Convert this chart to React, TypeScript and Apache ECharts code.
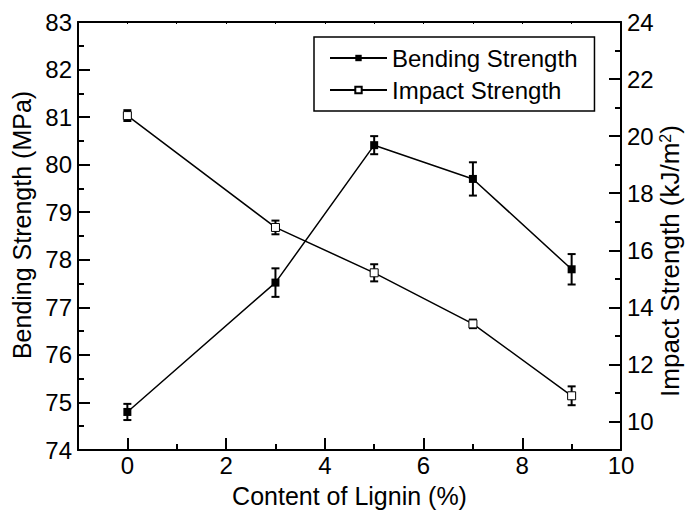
import React, { useEffect, useRef } from "react";
import * as echarts from "echarts";

const lignin = [0, 3, 5, 7, 9];
const bending = [74.8, 77.52, 80.41, 79.7, 77.8];
const bendingErr = [0.17, 0.3, 0.19, 0.35, 0.32];
const impact = [20.72, 16.8, 15.21, 13.42, 10.9];
const impactErr = [0.19, 0.24, 0.3, 0.15, 0.33];
const xTicks = [0, 2, 4, 6, 8, 10];
const rightTicks = [10, 12, 14, 16, 18, 20, 22, 24];

const FONT = "'Liberation Sans', Arial, sans-serif";

export default function App() {
  const ref = useRef<HTMLDivElement>(null);
  useEffect(() => {
    const chart = echarts.init(ref.current!, null, { renderer: "svg" });
    const errRender = (params: any, api: any) => {
      const x = api.value(0);
      const p1 = api.coord([x, api.value(1)]);
      const p2 = api.coord([x, api.value(2)]);
      const w = 4;
      const style = { stroke: "#000", lineWidth: 2 };
      return {
        type: "group",
        children: [
          { type: "line", shape: { x1: p1[0], y1: p1[1], x2: p2[0], y2: p2[1] }, style },
          { type: "line", shape: { x1: p1[0] - w, y1: p1[1], x2: p1[0] + w, y2: p1[1] }, style },
          { type: "line", shape: { x1: p2[0] - w, y1: p2[1], x2: p2[0] + w, y2: p2[1] }, style },
        ],
      };
    };
    const axisLine = { show: true, onZero: false, lineStyle: { color: "#000", width: 2 } };
    const label = { color: "#000", fontSize: 24, fontFamily: FONT };
    const nameStyle = { color: "#000", fontSize: 25, fontFamily: FONT };
    const hidden = {
      axisLine: { show: false, onZero: false },
      axisLabel: { show: false },
      splitLine: { show: false },
    };
    const option: any = {
      animation: false,
      backgroundColor: "#fff",
      grid: { left: 78, right: 66, top: 22, bottom: 60, outerBoundsMode: "none" },
      legend: {
        orient: "vertical",
        left: 314,
        top: 37,
        padding: [9, 17, 9, 15],
        itemGap: 8,
        itemWidth: 57,
        itemHeight: 8,
        borderColor: "#000",
        borderWidth: 1.5,
        textStyle: { color: "#000", fontSize: 24, fontFamily: FONT },
        data: ["Bending Strength", "Impact Strength"],
      },
      xAxis: [
        {
          type: "value",
          min: -1,
          max: 10,
          position: "bottom",
          name: "Content of Lignin (%)",
          nameLocation: "middle",
          nameGap: 33,
          nameMoveOverlap: false,
          nameTextStyle: nameStyle,
          axisLine,
          axisTick: { show: true, inside: true, length: 12, lineStyle: { color: "#000", width: 2 }, customValues: xTicks },
          axisLabel: { ...label, margin: 3, customValues: xTicks },
          splitLine: { show: false },
        },
        {
          type: "value",
          min: -1,
          max: 10,
          interval: 1,
          position: "bottom",
          ...hidden,
          axisTick: { show: true, inside: true, length: 6, lineStyle: { color: "#000", width: 2 } },
        },
        {
          type: "value",
          min: -1,
          max: 10,
          interval: 1,
          position: "top",
          axisLine,
          axisLabel: { show: false },
          splitLine: { show: false },
          axisTick: { show: true, inside: true, length: 2, lineStyle: { color: "#000", width: 1 } },
        },
      ],
      yAxis: [
        {
          type: "value",
          min: 74,
          max: 83,
          interval: 1,
          position: "left",
          name: "Bending Strength (MPa)",
          nameLocation: "middle",
          nameRotate: 90,
          nameGap: 44,
          nameMoveOverlap: false,
          nameTextStyle: { ...nameStyle, padding: [0, 0, 0, 22] },
          axisLine,
          axisTick: { show: true, inside: true, length: 12, lineStyle: { color: "#000", width: 2 } },
          minorTick: { show: true, splitNumber: 2, length: 6, lineStyle: { color: "#000", width: 2 } },
          axisLabel: { ...label, margin: 6 },
          splitLine: { show: false },
        },
        {
          type: "value",
          min: 9,
          max: 24,
          position: "right",
          name: "Impact Strength (kJ/m{sup|2})",
          nameLocation: "middle",
          nameRotate: 90,
          nameGap: 36,
          nameMoveOverlap: false,
          nameTextStyle: {
            ...nameStyle,
            fontSize: 26,
            padding: [0, 50, 0, 0],
            rich: { sup: { fontSize: 16, fontFamily: FONT, color: "#000", verticalAlign: "top", lineHeight: 26 } },
          },
          axisLine,
          axisTick: { show: true, inside: true, length: 12, lineStyle: { color: "#000", width: 2 }, customValues: rightTicks },
          axisLabel: { ...label, margin: 6, customValues: rightTicks },
          splitLine: { show: false },
        },
        {
          type: "value",
          min: 9,
          max: 24,
          interval: 1,
          position: "right",
          ...hidden,
          axisTick: { show: true, inside: true, length: 6, lineStyle: { color: "#000", width: 2 } },
        },
      ],
      series: [
        {
          name: "Bending Strength",
          type: "line",
          xAxisIndex: 0,
          yAxisIndex: 0,
          z: 3,
          symbol: "rect",
          symbolSize: 8,
          itemStyle: { color: "#000" },
          lineStyle: { color: "#000", width: 1.5 },
          data: lignin.map((x, i) => [x, bending[i]]),
        },
        {
          name: "Impact Strength",
          type: "line",
          xAxisIndex: 0,
          yAxisIndex: 1,
          z: 3,
          symbol: "rect",
          symbolSize: 8,
          itemStyle: { color: "#fff", borderColor: "#000", borderWidth: 1 },
          lineStyle: { color: "#000", width: 1.5 },
          data: lignin.map((x, i) => [x, impact[i]]),
        },
        {
          type: "custom",
          xAxisIndex: 0,
          yAxisIndex: 0,
          z: 2,
          renderItem: errRender,
          encode: { x: 0, y: [1, 2] },
          data: lignin.map((x, i) => [x, bending[i] - bendingErr[i], bending[i] + bendingErr[i]]),
        },
        {
          type: "custom",
          xAxisIndex: 0,
          yAxisIndex: 1,
          z: 2,
          renderItem: errRender,
          encode: { x: 0, y: [1, 2] },
          data: lignin.map((x, i) => [x, impact[i] - impactErr[i], impact[i] + impactErr[i]]),
        },
      ],
    };
    chart.setOption(option);
    return () => chart.dispose();
  }, []);
  return (
    <div
      ref={ref}
      style={{ position: "fixed", left: 0, top: 0, width: 687, height: 510, background: "#fff" }}
    />
  );
}
